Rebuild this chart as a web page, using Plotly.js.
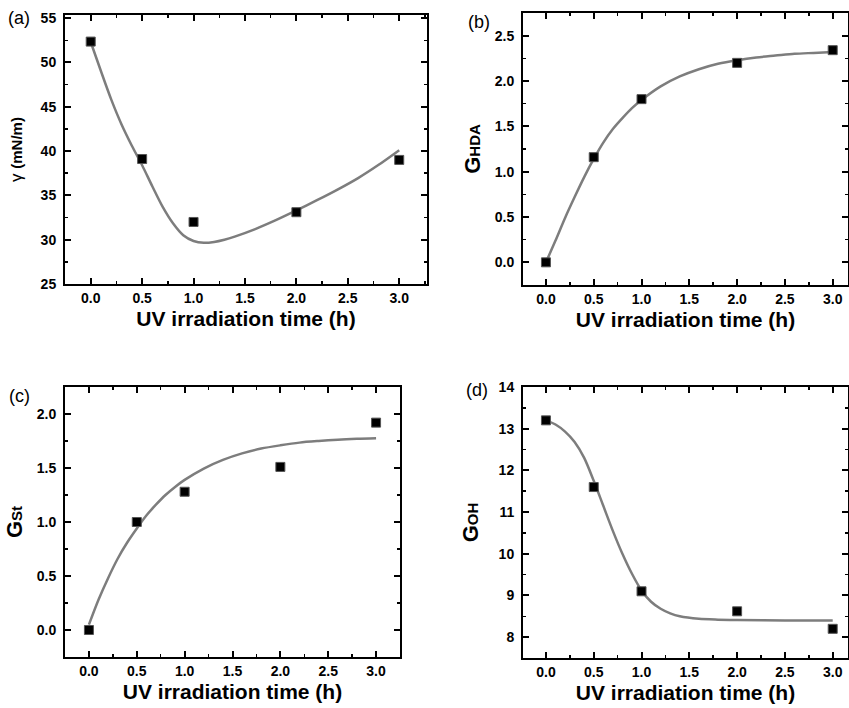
<!DOCTYPE html>
<html>
<head>
<meta charset="utf-8">
<script src="https://cdn.plot.ly/plotly-3.0.1.min.js"></script>
<style>
html,body{margin:0;padding:0;background:#fff;}
#chart{width:849px;height:708px;}
#chart .xtick text, #chart .ytick text, #chart .x2tick text, #chart .y2tick text,
#chart .x3tick text, #chart .y3tick text, #chart .x4tick text, #chart .y4tick text { font-weight: bold !important; }
</style>
</head>
<body>
<div id="chart"></div>
<script>
// Measured points (UV irradiation time in hours)
const timeH = [0, 0.5, 1.0, 2.0, 3.0];
const gammaPts = [52.35, 39.1, 32.0, 33.1, 39.0];
const ghdaPts = [0.0, 1.16, 1.80, 2.20, 2.34];
const gstPts = [0.0, 1.0, 1.28, 1.51, 1.92];
const gohPts = [13.2, 11.6, 9.1, 8.62, 8.2];

// Fitted curves
const gammaFitX = [0, 0.1, 0.2, 0.3, 0.4, 0.5, 0.6, 0.7, 0.8, 0.9, 1.0, 1.1, 1.2, 1.3, 1.4, 1.6, 1.8, 2.0, 2.2, 2.4, 2.6, 2.8, 3.0];
const gammaFitY = [52.3, 49.0, 45.8, 43.0, 40.6, 38.4, 36.0, 33.7, 31.85, 30.5, 29.85, 29.65, 29.75, 30.0, 30.35, 31.2, 32.2, 33.3, 34.45, 35.65, 36.95, 38.45, 40.1];
const ghdaFitX = [0, 0.1, 0.2, 0.3, 0.4, 0.5, 0.6, 0.7, 0.8, 0.9, 1.0, 1.2, 1.4, 1.6, 1.8, 2.0, 2.2, 2.4, 2.6, 2.8, 3.0];
const ghdaFitY = [0.0, 0.24, 0.49, 0.72, 0.94, 1.14, 1.32, 1.47, 1.59, 1.70, 1.79, 1.94, 2.05, 2.13, 2.19, 2.23, 2.26, 2.28, 2.30, 2.31, 2.32];
const gstFitX = [0, 0.1, 0.2, 0.3, 0.4, 0.5, 0.6, 0.7, 0.8, 0.9, 1.0, 1.2, 1.4, 1.6, 1.8, 2.0, 2.2, 2.4, 2.6, 2.8, 3.0];
const gstFitY = [0.05, 0.28, 0.48, 0.66, 0.81, 0.94, 1.06, 1.16, 1.25, 1.325, 1.39, 1.495, 1.575, 1.635, 1.68, 1.71, 1.735, 1.75, 1.762, 1.77, 1.775];
const gohFitX = [0, 0.1, 0.2, 0.3, 0.4, 0.5, 0.6, 0.7, 0.8, 0.9, 1.0, 1.1, 1.2, 1.3, 1.4, 1.6, 1.8, 2.0, 2.5, 3.0];
const gohFitY = [13.2, 13.1, 12.93, 12.68, 12.3, 11.75, 11.15, 10.55, 10.0, 9.52, 9.12, 8.85, 8.68, 8.57, 8.5, 8.44, 8.42, 8.41, 8.4, 8.4];

// Tick labels
const timeTicks = [0, 0.5, 1.0, 1.5, 2.0, 2.5, 3.0];
const timeTickText = ['0.0', '0.5', '1.0', '1.5', '2.0', '2.5', '3.0'];
const gammaTicks = [25, 30, 35, 40, 45, 50, 55];
const gammaTickText = ['25', '30', '35', '40', '45', '50', '55'];
const ghdaTicks = [0, 0.5, 1.0, 1.5, 2.0, 2.5];
const ghdaTickText = ['0.0', '0.5', '1.0', '1.5', '2.0', '2.5'];
const gstTicks = [0, 0.5, 1.0, 1.5, 2.0];
const gstTickText = ['0.0', '0.5', '1.0', '1.5', '2.0'];
const gohTicks = [8, 9, 10, 11, 12, 13, 14];
const gohTickText = ['8', '9', '10', '11', '12', '13', '14'];

const xTitle = 'UV irradiation time (h)';
const panelLabels = ['(a)', '(b)', '(c)', '(d)'];

const W = 849, H = 708;
const FONT = 'Liberation Sans, Arial, sans-serif';

function bold(arr) { return arr.map(function (s) { return '<b>' + s + '</b>'; }); }

function fitTrace(x, y, ax) {
  return {x: x, y: y, xaxis: ax[0], yaxis: ax[1], mode: 'lines', type: 'scatter',
    line: {color: '#7d7d7d', width: 2.5, shape: 'spline', smoothing: 0.8}, hoverinfo: 'skip', showlegend: false};
}
function ptTrace(x, y, ax) {
  return {x: x, y: y, xaxis: ax[0], yaxis: ax[1], mode: 'markers', type: 'scatter',
    marker: {symbol: 'square', size: 9, color: '#000', line: {color: '#555', width: 1}}, showlegend: false};
}

const data = [
  fitTrace(gammaFitX, gammaFitY, ['x', 'y']), ptTrace(timeH, gammaPts, ['x', 'y']),
  fitTrace(ghdaFitX, ghdaFitY, ['x2', 'y2']), ptTrace(timeH, ghdaPts, ['x2', 'y2']),
  fitTrace(gstFitX, gstFitY, ['x3', 'y3']), ptTrace(timeH, gstPts, ['x3', 'y3']),
  fitTrace(gohFitX, gohFitY, ['x4', 'y4']), ptTrace(timeH, gohPts, ['x4', 'y4'])
];

function px(l, r) { return [l / W, r / W]; }
function py(top, bottom) { return [1 - bottom / H, 1 - top / H]; }

function common() {
  return {showgrid: false, zeroline: false,
    showline: true, linecolor: '#000', linewidth: 2, mirror: 'ticks',
    ticks: 'inside', ticklen: 6, tickwidth: 2, tickcolor: '#000',
    tickfont: {family: FONT, size: 14, color: '#000', weight: 'bold'},
    fixedrange: true};
}
function xax(domain, range, anchor) {
  return Object.assign(common(), {domain: domain, range: range, anchor: anchor,
    tickmode: 'array', tickvals: timeTicks, ticktext: bold(timeTickText),
    minor: {tickmode: 'linear', tick0: 0, dtick: 0.25, ticks: 'inside', ticklen: 3, tickwidth: 1.5, tickcolor: '#000', showgrid: false},
    title: {text: '<b>' + xTitle + '</b>', font: {family: FONT, size: 21, color: '#000'}, standoff: 7}});
}
function yax(domain, range, anchor, vals, text, mdtick, title, standoff) {
  return Object.assign(common(), {domain: domain, range: range, anchor: anchor,
    tickmode: 'array', tickvals: vals, ticktext: bold(text),
    minor: {tickmode: 'linear', tick0: 0, dtick: mdtick, ticks: 'inside', ticklen: 3, tickwidth: 1.5, tickcolor: '#000', showgrid: false},
    ticklabelstandoff: 4,
    title: {text: title, font: {family: FONT, size: 22, color: '#000'}, standoff: standoff}});
}

const layout = {
  width: W, height: H, margin: {l: 0, r: 0, t: 0, b: 0},
  paper_bgcolor: '#fff', plot_bgcolor: '#fff', showlegend: false,
  font: {family: FONT, color: '#000'},
  xaxis: xax(px(65, 427), [-0.25, 3.27], 'y'),
  yaxis: yax(py(15, 284), [25, 55.35], 'x', gammaTicks, gammaTickText, 2.5,
    '<span style="font-size:17px">γ </span><b><span style="font-size:15px">(mN/m)</span></b>', 12),
  xaxis2: xax(px(523, 848), [-0.24, 3.16], 'y2'),
  yaxis2: yax(py(13, 285), [-0.25, 2.75], 'x2', ghdaTicks, ghdaTickText, 0.25,
    '<b>G<span style="font-size:15px">HDA</span></b>', 8),
  xaxis3: xax(px(65, 400), [-0.25, 3.25], 'y3'),
  yaxis3: yax(py(387, 657), [-0.25, 2.25], 'x3', gstTicks, gstTickText, 0.25,
    '<b>G<span style="font-size:15px">St</span></b>', 8),
  xaxis4: xax(px(523, 848), [-0.24, 3.16], 'y4'),
  yaxis4: yax(py(387, 658), [7.5, 14], 'x4', gohTicks, gohTickText, 0.5,
    '<b>G<span style="font-size:15px">OH</span></b>', 14),
  annotations: [
    {text: panelLabels[0], xref: 'paper', yref: 'paper', x: 6 / W, y: 1 - 18 / H, xanchor: 'left', yanchor: 'middle', showarrow: false, font: {family: FONT, size: 18, color: '#000'}},
    {text: panelLabels[1], xref: 'paper', yref: 'paper', x: 466 / W, y: 1 - 22 / H, xanchor: 'left', yanchor: 'middle', showarrow: false, font: {family: FONT, size: 18, color: '#000'}},
    {text: panelLabels[2], xref: 'paper', yref: 'paper', x: 7 / W, y: 1 - 396 / H, xanchor: 'left', yanchor: 'middle', showarrow: false, font: {family: FONT, size: 18, color: '#000'}},
    {text: panelLabels[3], xref: 'paper', yref: 'paper', x: 464 / W, y: 1 - 390 / H, xanchor: 'left', yanchor: 'middle', showarrow: false, font: {family: FONT, size: 18, color: '#000'}}
  ]
};

Plotly.newPlot('chart', data, layout, {displayModeBar: false, staticPlot: true});
</script>
</body>
</html>
